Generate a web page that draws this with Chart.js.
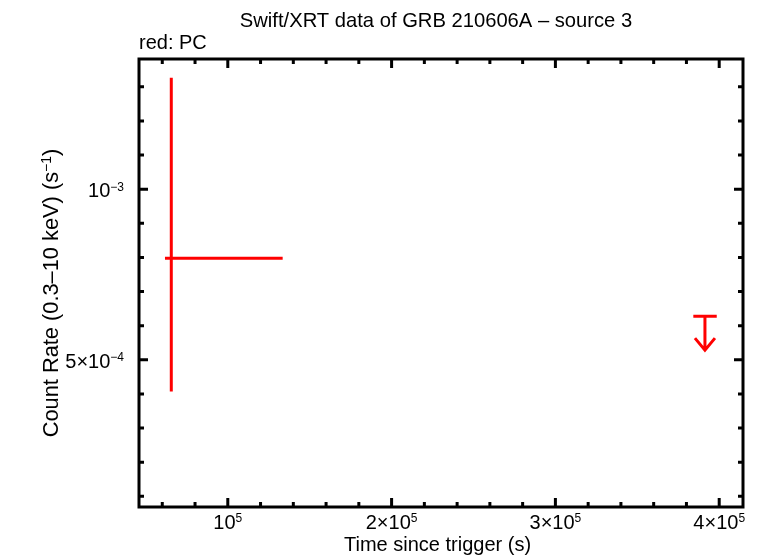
<!DOCTYPE html>
<html>
<head>
<meta charset="UTF-8">
<title>Swift/XRT data of GRB 210606A - source 3</title>
<script src="https://cdn.jsdelivr.net/npm/chart.js"></script>
<style>
  body { margin: 0; background: #fff; }
  canvas { display: block; }
</style>
</head>
<body>
<canvas id="lc" width="760" height="558"></canvas>
<script>
// PC mode detection (time, rate and asymmetric errors)
const pcTime = [65500];
const pcTimeNeg = [3850];
const pcTimePos = [68000];
const pcRate = [7.98e-4];
const pcRateNeg = [3.91e-4];
const pcRatePos = [5.29e-4];

// PC mode upper limit
const ulTime = [391300];
const ulTimeNeg = [7100];
const ulTimePos = [7200];
const ulRate = [6.28e-4];

// axes
const xMin = 45790, xMax = 414530;
const yMin = 6.86e-5, yMax = 1.3816e-3;
const xMajor = [1e5, 2e5, 3e5, 4e5];
const xMajorLabels = ['10^5', '2×10^5', '3×10^5', '4×10^5'];
const xMinorStep = 2e4;
const yMajor = [5e-4, 1e-3];
const yMajorLabels = ['5×10^−4', '10^−3'];
const yMinorStep = 1e-4;

const titleText = 'Swift/XRT data of GRB 210606A – source 3';
const subText = 'red: PC';
const xTitle = 'Time since trigger (s)';
const yTitle = 'Count Rate (0.3–10 keV) (s^−1)';

const FONT = '"Liberation Sans", Arial, Helvetica, sans-serif';

function segs(str) {
  const p = str.split('^');
  const out = [{ t: p[0], sup: false }];
  if (p.length > 1) {
    // superscript runs until a closing paren
    const m = p[1].match(/^([^)]*)(.*)$/);
    out.push({ t: m[1], sup: true });
    if (m[2]) out.push({ t: m[2], sup: false });
  }
  return out;
}

function drawRich(ctx, str, x, y, align, big) {
  big = big || 20;
  const small = Math.round(big * 0.62), rise = big * 0.32;
  const parts = segs(str);
  let w = 0;
  parts.forEach(s => {
    ctx.font = (s.sup ? small : big) + 'px ' + FONT;
    s.w = ctx.measureText(s.t).width;
    w += s.w;
  });
  let cx = x;
  if (align === 'center') cx = x - w / 2;
  else if (align === 'right') cx = x - w;
  ctx.textAlign = 'left';
  ctx.textBaseline = 'alphabetic';
  parts.forEach(s => {
    ctx.font = (s.sup ? small : big) + 'px ' + FONT;
    ctx.fillText(s.t, cx, s.sup ? y - rise : y);
    cx += s.w;
  });
}

function isMajor(v, list, step) {
  return list.some(m => Math.abs(m - v) < step / 10);
}

const framePlugin = {
  id: 'frame',
  afterDatasetsDraw(chart) {
    const ctx = chart.ctx;
    const xs = chart.scales.x, ys = chart.scales.y;
    const a = chart.chartArea;
    ctx.save();

    // error bars for detections
    ctx.strokeStyle = '#ff0000';
    ctx.lineWidth = 3;
    ctx.lineCap = 'butt';
    pcTime.forEach((t, i) => {
      const px = xs.getPixelForValue(t);
      const py = ys.getPixelForValue(pcRate[i]);
      ctx.beginPath();
      ctx.moveTo(xs.getPixelForValue(t - pcTimeNeg[i]), py);
      ctx.lineTo(xs.getPixelForValue(t + pcTimePos[i]), py);
      ctx.moveTo(px, ys.getPixelForValue(pcRate[i] + pcRatePos[i]));
      ctx.lineTo(px, ys.getPixelForValue(pcRate[i] - pcRateNeg[i]));
      ctx.stroke();
    });

    // upper limits
    ulTime.forEach((t, i) => {
      const px = xs.getPixelForValue(t);
      const py = ys.getPixelForValue(ulRate[i]);
      ctx.beginPath();
      ctx.moveTo(xs.getPixelForValue(t - ulTimeNeg[i]), py);
      ctx.lineTo(xs.getPixelForValue(t + ulTimePos[i]), py);
      ctx.moveTo(px, py);
      ctx.lineTo(px, py + 34);
      ctx.moveTo(px - 10, py + 22);
      ctx.lineTo(px, py + 34);
      ctx.lineTo(px + 10, py + 22);
      ctx.stroke();
    });

    // frame
    ctx.strokeStyle = '#000';
    ctx.lineWidth = 3;
    ctx.lineJoin = 'miter';
    ctx.strokeRect(a.left, a.top, a.right - a.left, a.bottom - a.top);

    // x ticks
    ctx.beginPath();
    for (let v = Math.ceil(xMin / xMinorStep) * xMinorStep; v <= xMax; v += xMinorStep) {
      const px = xs.getPixelForValue(v);
      const len = isMajor(v, xMajor, xMinorStep) ? 9 : 5;
      ctx.moveTo(px, a.bottom); ctx.lineTo(px, a.bottom - len);
      ctx.moveTo(px, a.top); ctx.lineTo(px, a.top + len);
    }
    // y ticks
    for (let v = Math.ceil(yMin / yMinorStep) * yMinorStep; v <= yMax; v += yMinorStep) {
      const py = ys.getPixelForValue(v);
      const len = isMajor(v, yMajor, yMinorStep) ? 9 : 5;
      ctx.moveTo(a.left, py); ctx.lineTo(a.left + len, py);
      ctx.moveTo(a.right, py); ctx.lineTo(a.right - len, py);
    }
    ctx.stroke();

    // tick labels
    ctx.fillStyle = '#000';
    xMajor.forEach((v, i) => {
      drawRich(ctx, xMajorLabels[i], xs.getPixelForValue(v), a.bottom + 21.5, 'center', 20);
    });
    yMajor.forEach((v, i) => {
      drawRich(ctx, yMajorLabels[i], 124, ys.getPixelForValue(v) + 8, 'right', 20);
    });

    // titles
    drawRich(ctx, titleText, 436, 27, 'center', 20.2);
    drawRich(ctx, subText, 139, 49, 'left', 20);
    drawRich(ctx, xTitle, 437.5, 550.5, 'center', 20);
    ctx.save();
    ctx.translate(58, 293);
    ctx.rotate(-Math.PI / 2);
    drawRich(ctx, yTitle, 0, 0, 'center', 21.8);
    ctx.restore();

    ctx.restore();
  }
};

new Chart(document.getElementById('lc').getContext('2d'), {
  type: 'scatter',
  data: {
    datasets: [
      {
        label: 'PC',
        data: pcTime.map((t, i) => ({ x: t, y: pcRate[i] })),
        pointRadius: 0,
        borderColor: '#ff0000',
        backgroundColor: '#ff0000'
      },
      {
        label: 'PC upper limit',
        data: ulTime.map((t, i) => ({ x: t, y: ulRate[i] })),
        pointRadius: 0,
        borderColor: '#ff0000',
        backgroundColor: '#ff0000'
      }
    ]
  },
  options: {
    responsive: false,
    animation: false,
    layout: { padding: { left: 139, top: 59, right: 17, bottom: 51 } },
    plugins: {
      legend: { display: false },
      tooltip: { enabled: false },
      title: { display: false }
    },
    scales: {
      x: { type: 'linear', min: xMin, max: xMax, display: false },
      y: { type: 'linear', min: yMin, max: yMax, display: false }
    }
  },
  plugins: [framePlugin]
});
</script>
</body>
</html>
